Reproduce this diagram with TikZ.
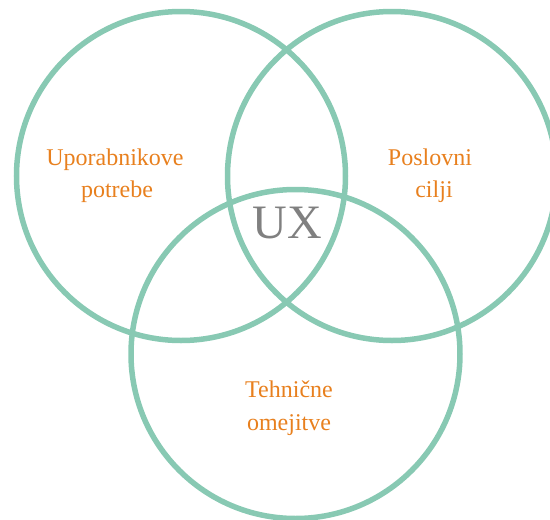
\documentclass[tikz,border=0pt]{standalone}
\usepackage{fontspec}
\setmainfont{Liberation Serif}
\definecolor{ringgreen}{HTML}{88C9B3}
\definecolor{labelorange}{HTML}{E8801E}
\definecolor{uxgray}{HTML}{808080}
\begin{document}
\begin{tikzpicture}[x=1pt,y=-1pt,
  ring/.style={draw=ringgreen,line width=5.5pt,circle,minimum size=329pt,inner sep=0pt},
  lbl/.style={text=labelorange,font=\fontsize{24}{32}\selectfont,align=center,inner sep=0pt},
  uxlbl/.style={text=uxgray,font=\fontsize{48}{48}\selectfont,inner sep=0pt,anchor=base}]
\useasboundingbox (0,0) rectangle (550,520);
\node[ring] (cl) at (181,176) {};
\node[ring] (cr) at (392,176) {};
\node[ring] (cb) at (295.5,354) {};
\node[lbl,anchor=base] (ul) at (115,165) {Uporabnikove};
\node[lbl,anchor=base] (ul2) at (117,197) {potrebe};
\node[lbl,anchor=base] (pc) at (430,165) {Poslovni};
\node[lbl,anchor=base] (pc2) at (434,197) {cilji};
\node[lbl,anchor=base] (tc) at (289,397) {Tehnične};
\node[lbl,anchor=base] (tc2) at (289,430) {omejitve};
\node[uxlbl] (ux) at (287.5,238) {UX};
\end{tikzpicture}
\end{document}
